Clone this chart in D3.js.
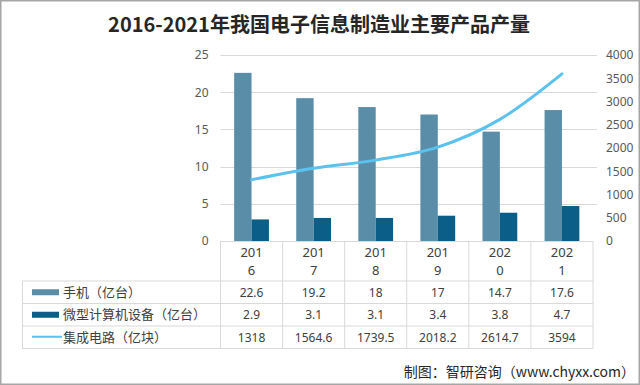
<!DOCTYPE html>
<html><head><meta charset="utf-8">
<script src="https://cdn.jsdelivr.net/npm/d3@7"></script>
<style>
html,body{margin:0;padding:0;background:#fff;}
svg{display:block;font-family:"Noto Sans CJK SC","Noto Sans",sans-serif;}
</style></head>
<body>
<svg id="c" width="640" height="385"></svg>
<script>
const title = "2016-2021年我国电子信息制造业主要产品产量";
const years = ["2016","2017","2018","2019","2020","2021"];
const phones = [22.6,19.2,18,17,14.7,17.6];
const computers = [2.9,3.1,3.1,3.4,3.8,4.7];
const chips = [1318,1564.6,1739.5,2018.2,2614.7,3594];
const seriesNames = ["手机（亿台）","微型计算机设备（亿台）","集成电路（亿块）"];
const leftTicks = [0,5,10,15,20,25];
const rightTicks = [0,500,1000,1500,2000,2500,3000,3500,4000];
const source = "制图：智研咨询（www.chyxx.com）";

const cLight = "#5A8EA8", cDark = "#0B5E88", cLine = "#5BC1EE";
const textCol = "#404040", gridCol = "#D9D9D9", tableCol = "#D9D9D9";
const numFont = "'Noto Sans','Open Sans',sans-serif";

const svg = d3.select("#c");
svg.append("rect").attr("x",0.75).attr("y",0.75).attr("width",638.5).attr("height",383.5)
  .attr("fill","#fff").attr("stroke","#A6A6A6").attr("stroke-width",1.5);

const L = 220.5, R = 593, T = 55, B = 241;
const x = d3.scaleBand().domain(years).range([L,R]);
const y = d3.scaleLinear().domain([0,25]).range([B,T]);
const y2 = d3.scaleLinear().domain([0,4000]).range([B,T]);
const inner = d3.scaleBand().domain([0,1]).range([0,x.bandwidth()]).paddingInner(0).paddingOuter(0.785);

// title
svg.append("text").attr("x",319).attr("y",32).attr("text-anchor","middle")
  .attr("font-size",20).attr("font-weight","bold").attr("fill","#262626").text(title);

// gridlines
svg.append("g").selectAll("line").data(leftTicks.slice(1)).join("line")
  .attr("x1",L).attr("x2",R+4).attr("y1",d=>Math.round(y(d))+0.5).attr("y2",d=>Math.round(y(d))+0.5)
  .attr("stroke",gridCol).attr("stroke-width",1);

// left axis
const gl = svg.append("g").attr("transform",`translate(${L},0)`)
  .call(d3.axisLeft(y).tickValues(leftTicks).tickSize(0).tickPadding(12).tickFormat(d3.format("d")));
gl.select(".domain").remove();
gl.selectAll("text").attr("font-size",12).attr("fill","#595959").attr("font-family",numFont);

// right axis
const gr = svg.append("g").attr("transform",`translate(${R},0)`)
  .call(d3.axisRight(y2).tickValues(rightTicks).tickSize(0).tickPadding(13).tickFormat(d3.format("d")));
gr.select(".domain").remove();
gr.selectAll("text").attr("font-size",12).attr("fill","#595959").attr("font-family",numFont);

// bars
const g = svg.append("g");
g.selectAll(".b1").data(years).join("rect")
  .attr("x",(d)=>x(d)+inner(0)).attr("width",inner.bandwidth())
  .attr("y",(d,i)=>y(phones[i])).attr("height",(d,i)=>B-y(phones[i])).attr("fill",cLight);
g.selectAll(".b2").data(years).join("rect")
  .attr("x",(d)=>x(d)+inner(1)).attr("width",inner.bandwidth())
  .attr("y",(d,i)=>y(computers[i])).attr("height",(d,i)=>B-y(computers[i])).attr("fill",cDark);

// line
const line = d3.line().x((d,i)=>x(years[i])+x.bandwidth()/2).y(d=>y2(d)).curve(d3.curveMonotoneX);
svg.append("path").datum(chips).attr("d",line).attr("fill","none")
  .attr("stroke",cLine).attr("stroke-width",3).attr("stroke-linecap","round");

// table
const rowTop = 281, rowH = 22.5, tblLeft = 22.5;
const tg = svg.append("g");
tg.append("line").attr("x1",L).attr("x2",R).attr("y1",B+0.5).attr("y2",B+0.5).attr("stroke",tableCol);
const vx = years.map(d=>x(d)).concat([R]);
tg.selectAll(".v").data(vx).join("line")
  .attr("x1",d=>d).attr("x2",d=>d).attr("y1",B).attr("y2",rowTop+rowH*3).attr("stroke",tableCol);
tg.append("line").attr("x1",tblLeft).attr("x2",tblLeft).attr("y1",rowTop).attr("y2",rowTop+rowH*3).attr("stroke",tableCol);
tg.selectAll(".h").data([0,1,2,3]).join("line")
  .attr("x1",tblLeft).attr("x2",R).attr("y1",d=>rowTop+rowH*d).attr("y2",d=>rowTop+rowH*d).attr("stroke",tableCol);

// year labels (wrapped)
const yl = tg.selectAll(".yl").data(years).join("text")
  .attr("text-anchor","middle").attr("font-size",13).attr("fill",textCol).attr("font-family",numFont);
yl.append("tspan").attr("x",d=>x(d)+x.bandwidth()/2).attr("y",257).text(d=>d.slice(0,3));
yl.append("tspan").attr("x",d=>x(d)+x.bandwidth()/2).attr("y",275).text(d=>d.slice(3));

// values rows
const rows = [phones, computers, chips];
rows.forEach((vals,r)=>{
  tg.selectAll(".r"+r).data(vals).join("text")
    .attr("x",(d,i)=>x(years[i])+x.bandwidth()/2).attr("y",rowTop+rowH*r+rowH/2+4.5)
    .attr("text-anchor","middle").attr("font-size",12).attr("fill",textCol).attr("font-family",numFont).text(d=>d);
  const cy = rowTop+rowH*r+rowH/2;
  if(r<2){
    tg.append("rect").attr("x",32).attr("y",cy-3).attr("width",27).attr("height",6).attr("fill",r===0?cLight:cDark);
  } else {
    tg.append("line").attr("x1",32).attr("x2",62).attr("y1",cy-0.5).attr("y2",cy-0.5).attr("stroke",cLine).attr("stroke-width",2);
  }
  tg.append("text").attr("x",63).attr("y",cy+4.5).attr("font-size",13).attr("fill",textCol).text(seriesNames[r]);
});

// source
svg.append("text").attr("x",635).attr("y",377).attr("text-anchor","end")
  .attr("font-size",14).attr("fill","#262626").text(source);
</script>
</body></html>
